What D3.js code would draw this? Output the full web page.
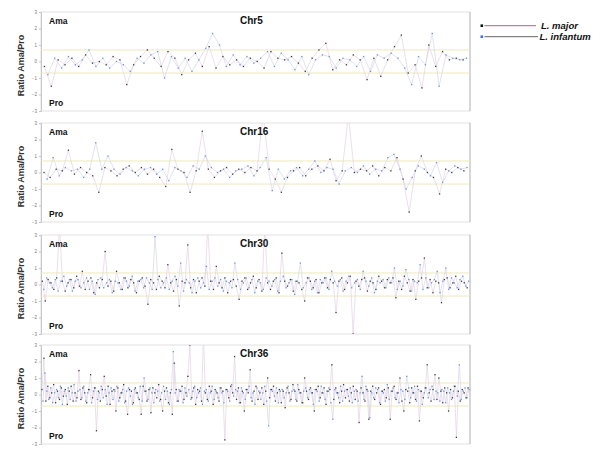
<!DOCTYPE html>
<html><head><meta charset="utf-8">
<script src="https://cdn.jsdelivr.net/npm/d3@7"></script>
<style>body{margin:0;background:#fff}svg{display:block;font-family:"Liberation Sans",Arial,sans-serif}</style>
</head><body><svg id="c" width="600" height="451"></svg>
<script>
const chrNames = ["Chr5","Chr16","Chr30","Chr36"];
const seriesNames = ["L. major","L. infantum"];
const yTicks = [-3,-2,-1,0,1,2,3];
const threshold = 0.7;

const chr5Major = [-.3,-1.5,.1,-.2,.2,-.3,.4,-.1,0,-.2, .3,.1,-1.4,-.2,.3,.7,.2,-.3,.6,.2, -.8,.1,.5,-.3,.9,-.4,.3,-.2,.1,-.3, .2,0,-.4,.6,.2,.1,.3,-.1,-.6,.2, .7,1.1,-.5,.1,-.2,.4,.1,-1.1,.2,-.9, .1,.9,1.6,-.7,-.2,-1.6,1.0,-.3,.6,.1, .2,.1];
const chr5Infantum = [-.8,.2,-.4,.3,-.2,.1,.7,-.3,.2,-.4, 0,-.2,-.6,.2,-.1,.4,.6,-1.0,.3,-.4, .2,-.6,.1,.8,1.7,1.0,-.3,.4,-.2,.3, -.1,.2,.6,-.3,.5,.1,-.5,.3,-.8,.1, .4,.3,-.4,.2,.1,-.3,.3,-.6,.4,.2, .5,.2,-.4,-1.4,.3,-.2,1.7,-1.5,.4,.2, .1,.2];

const chr16Major = [0,-.3,.2,.1,1.35,-.1,.3,0,-.2,-1.2, .3,.1,-.2,.2,.4,0,.3,-.1,.2,-.3, -.85,1.4,.2,0,-1.2,.1,2.5,.2,-.3,.1, .3,-.1,.2,0,.3,.1,3.5,.2,-.4,-1.2, -.3,.1,.3,-.2,.2,.4,.1,.8,-.5,.1, 3.5,0,.2,.1,.4,-.2,.3,.1,.9,-.4, -2.4,.1,1.0,0,-.3,-1.3,.2,0,.3,.1];
const chr16Infantum = [-.4,.9,-.2,.3,.1,.2,-.3,.2,1.8,.2, 1.0,.2,-.1,.3,.1,-.2,.2,.3,-.1,.2, -.5,.3,.1,-.3,.4,.2,1.0,.3,0,.2, -.3,.1,.2,.4,-.2,.3,.9,-1.1,.2,-.4, .1,.3,-.2,.2,.7,0,.3,.2,-.7,.1, .3,0,.4,-.1,.2,.1,.9,1.1,.2,-1.0, -.3,.4,.2,-.2,.6,-.6,.1,.4,.2,.3];

const chr30Major = [.2,-1.0,.3,.1,-.3,.4,3.5,.2,-.4,.1, .3,-.2,.5,-.1,.8,-.3,.2,.4,-.5,.1, -.2,.3,2.0,-.1,.2,-.4,.8,.1,-.3,.4, -.2,.3,.1,-.5,.2,.4,-.1,-1.2,.3,.1, -.3,.5,.2,-.2,1.2,.1,-.4,.3,-1.3,.2, .1,2.4,-.2,.3,-.5,.2,.4,-.1,3.5,.2, -.3,1.1,.1,-.2,.4,-.5,.2,.3,-.1,-.9, .2,.4,-.3,.1,.5,-.2,.3,-.4,3.5,.1, -.3,.2,.4,-.5,1.9,.2,-.1,.3,-.4,.2, .1,-.3,-1.0,.4,.2,-.2,.3,-.5,.1,.4, -.2,.3,.1,-1.7,.2,.4,-.3,.1,.5,-3.0, .2,-.1,.3,.4,-.4,.2,.1,-.3,.5,.2, -.2,.3,.1,.4,-.8,.2,-.3,.5,.1,-.4, .3,-.9,.2,.4,1.6,-.2,.3,-.5,.2,.1, -1.1,.3,.4,-.2,.1,.5,-.3,.2,.1,-.2];
const chr30Infantum = [-.3,.4,.1,-.2,.3,-.4,.2,.5,-.1,.3, -.4,.2,.3,-.2,.1,.4,-.3,.2,-.6,.3, .4,-.2,.1,.3,-.5,.2,.1,-.3,.4,.2, -.1,.5,-.4,.2,.3,-.2,.4,.1,-.3,2.9, .3,-.2,.1,.4,-.3,.2,.5,-.1,1.3,-.4, .3,.1,-.5,.2,.4,-.2,.1,1.1,-.3,.2, .4,-.1,.3,-.4,.2,.1,-.2,1.3,.3,-.3, .1,.4,-.2,.3,-.5,.2,.1,-.3,.4,.2, -.1,.3,-.4,.2,.5,-.2,.1,.3,-.6,.2, 1.3,-.2,.1,.4,-.3,.2,-.5,.3,.1,.4, -.3,.8,.2,-.1,.3,-.4,.2,.5,-.2,.1, .3,-.3,.8,.2,-.1,.4,-.5,.2,.1,.3, -.2,.4,.1,1.0,-.3,.2,-.1,.9,.3,-.4, .2,.1,1.2,-.3,.4,-.2,.1,.3,.8,-.5, .2,1.0,-.3,.4,.1,-.2,.3,.5,-.1,.2];

const chr36Major = [.3,2.2,-.4,.5,-.2,.1,.6,-.5,.2,-.3, .4,-.1,.3,-.6,.2,.5,-.4,.1,-.2,1.45, -.3,.4,.1,-.5,.3,1.2,-.2,.4,-2.2,.2, -.4,.3,1.1,-.1,.5,-.6,.2,.3,-1.0,.4, -.2,.1,.6,-.4,-1.2,.3,.2,-.5,.4,.1, -.3,-1.2,.5,.2,-.4,.3,-1.1,.4,.1,-.2, .6,-.3,-1.0,.2,.4,-.5,.1,-1.2,1.9,.3, -.4,.2,.5,-.3,.1,1.1,3.0,-.2,.4,-.6, .3,.2,-.4,3.5,.1,-.3,.5,.2,-.6,.3, .1,-.4,.4,.2,-2.75,.3,-.2,.5,.1,2.3, -.3,.4,-.5,.2,-1.0,.3,.1,1.5,-.4,.2, .5,-.3,.1,.4,-.6,.2,1.0,-.2,.3,.5, -.4,.1,.3,-.5,.2,-.8,.4,.1,-.3,.6, .2,-.4,.3,.1,-.5,1.0,.2,-.3,.4,.1, -1.0,.3,.5,-.2,.1,.4,-.6,.2,.3,1.8, -.3,.4,.1,-.5,.2,.6,-.2,.3,-.4,.1, .5,-.3,.2,-1.7,.4,.1,-.4,.3,-1.5,.2, .5,-.3,.1,.4,-.6,.2,.3,-.2,.4,-1.5, .2,.5,-.3,.1,1.0,-.4,-1.0,.3,.2,-.5, .4,.1,-.3,.5,-1.6,.2,-.2,.4,1.8,.1, -.4,.3,1.2,-.3,1.0,.2,-.5,.4,.1,-1.0, .3,-.2,.5,-2.6,.2,-.4,.3,.1,-.2,.4];
const chr36Infantum = [-.4,1.3,.2,-.3,.4,-.5,.1,.3,-.2,.5, -.6,.2,-.1,.4,-.3,.1,.6,-.4,.2,.3, -.2,.5,-.4,.1,.3,-.5,.2,.4,-.3,.1, .5,-.2,.3,-.6,.1,.4,-.3,.2,.5,-.4, .1,.3,-.5,.2,.4,-.1,-.6,.3,.1,-.2, .5,-.4,1.0,.2,-.3,.4,.1,-.5,.3,.2, -.4,.1,.5,-.3,.2,-.6,.3,2.6,.1,-.4, .3,.2,-.5,.4,-.1,.3,-.3,.2,.5,-.2, .1,.4,-.6,.2,.3,-.4,.1,.5,-.3,.2, -.2,.4,.1,-.5,.3,.2,-.4,.6,-.1,.3, .2,-.5,.4,.1,-.3,.3,.5,-.2,.1,-.6, .4,.2,-.3,.1,.5,-.4,-1.9,.3,.2,-.1, .4,-.5,.2,.3,-.2,.1,.5,-.4,.2,.3, -.3,.6,.1,-.5,.2,.4,-.2,.3,.1,-.6, .3,.2,-.4,.5,.1,-.3,.2,.4,-.5,-1.5, .3,.1,-.2,.5,-.4,.2,.3,-.1,.4,-.5, .2,.3,-.4,.1,1.1,-.3,.5,.2,-1.4,.1, -.2,.4,.3,-.5,.2,.1,-.4,.6,-.3,.2, .4,-.2,.1,-.5,.3,.2,-.3,1.1,.4,-.2, .1,.5,-.4,.3,.2,-.6,.1,.4,-.2,.3, .5,-.3,.2,.1,-.4,.3,.2,-.5,.4,.1, -.3,.2,.5,-.1,1.8,-.3,.2,.4,-.2,.3];

const panels = [
  {name: chrNames[0], major: chr5Major, infantum: chr5Infantum},
  {name: chrNames[1], major: chr16Major, infantum: chr16Infantum},
  {name: chrNames[2], major: chr30Major, infantum: chr30Infantum},
  {name: chrNames[3], major: chr36Major, infantum: chr36Infantum}
];

const svg = d3.select("#c");
const left = 41, right = 470, tops = [12,123,235,345], h = 99;
const majorColor = "#3a3a3a", infColor = "#6a8ff2";
const majorLine = "#e2d2e2", infLine = "#d4d7e8";

panels.forEach((p, k) => {
  const top = tops[k], bottom = top + h;
  const y = d3.scaleLinear().domain([-3,3]).range([bottom, top]);
  const n = p.major.length;
  const x = d3.scaleLinear().domain([-0.5, n]).range([left, right]);
  const g = svg.append("g");
  const cid = "clip" + k;
  svg.append("clipPath").attr("id", cid).append("rect")
    .attr("x", left).attr("y", top).attr("width", right-left).attr("height", h);

  g.append("rect").attr("x", left).attr("y", top).attr("width", right-left).attr("height", h)
    .attr("fill", "#fff").attr("stroke", "#dadada").attr("stroke-width", 0.8);
  g.append("line").attr("x1", right).attr("x2", right).attr("y1", top).attr("y2", bottom)
    .attr("stroke", "#b8b8b8").attr("stroke-width", 0.9);

  const ax = g.append("g").attr("transform", `translate(${left},0)`)
    .call(d3.axisLeft(y).tickValues(yTicks).tickFormat(d3.format("d")).tickSize(2).tickPadding(2));
  ax.select(".domain").attr("stroke", "#c8c8c8");
  ax.selectAll(".tick line").attr("stroke", "#c8c8c8");
  ax.selectAll(".tick text").attr("font-size", 4.5).attr("fill", "#777");

  [threshold, -threshold].forEach(t => {
    g.append("line").attr("x1", left).attr("x2", right).attr("y1", y(t)).attr("y2", y(t))
      .attr("stroke", "#ebe6b4").attr("stroke-width", 0.9);
  });

  const plot = g.append("g").attr("clip-path", `url(#${cid})`);
  const lineMaj = d3.line().x((d,i) => x(i)).y(d => y(d));
  const lineInf = d3.line().x((d,i) => x(i + 0.5)).y(d => y(d));
  plot.append("path").datum(p.infantum).attr("d", lineInf).attr("fill", "none")
    .attr("stroke", infLine).attr("stroke-width", 0.7);
  plot.append("path").datum(p.major).attr("d", lineMaj).attr("fill", "none")
    .attr("stroke", majorLine).attr("stroke-width", 0.7);
  const s = 1.3;
  plot.selectAll(".pi").data(p.infantum).enter().append("rect")
    .attr("x", (d,i) => x(i + 0.5) - s/2).attr("y", d => y(d) - s/2)
    .attr("width", s).attr("height", s).attr("fill", infColor);
  plot.selectAll(".pm").data(p.major).enter().append("rect")
    .attr("x", (d,i) => x(i) - s/2).attr("y", d => y(d) - s/2)
    .attr("width", s).attr("height", s).attr("fill", majorColor);

  g.append("text").attr("x", 49).attr("y", top + 11.5).text("Ama")
    .attr("font-size", 8.5).attr("font-weight", "bold").attr("fill", "#111");
  g.append("text").attr("x", 49).attr("y", top + 93.5).text("Pro")
    .attr("font-size", 8.5).attr("font-weight", "bold").attr("fill", "#111");
  g.append("text").attr("x", 240).attr("y", top + 11.5).text(p.name)
    .attr("font-size", 10).attr("font-weight", "bold").attr("fill", "#111");
  g.append("text").attr("transform", `translate(24,${top + h/2 + 4}) rotate(-90)`)
    .attr("text-anchor", "middle").text("Ratio Ama/Pro")
    .attr("font-size", 9).attr("font-weight", "bold").attr("fill", "#333");
});

// legend
const legColors = ["#111", "#3f6cf5"];
const legLines = ["#a3506f", "#555"];
seriesNames.forEach((nm, i) => {
  const yy = 25.7 + i * 11;
  svg.append("rect").attr("x", 480.5).attr("y", yy - 1.3).attr("width", 2.6).attr("height", 2.6)
    .attr("fill", legColors[i]);
  svg.append("line").attr("x1", 484.5).attr("x2", i === 0 ? 536 : 538).attr("y1", yy).attr("y2", yy)
    .attr("stroke", legLines[i]).attr("stroke-width", 0.9);
  svg.append("text").attr("x", i === 0 ? 541 : 539.5).attr("y", yy + 3).text(nm)
    .attr("font-size", 9.5).attr("font-weight", "bold").attr("font-style", "italic").attr("fill", "#111");
});
</script></body></html>
